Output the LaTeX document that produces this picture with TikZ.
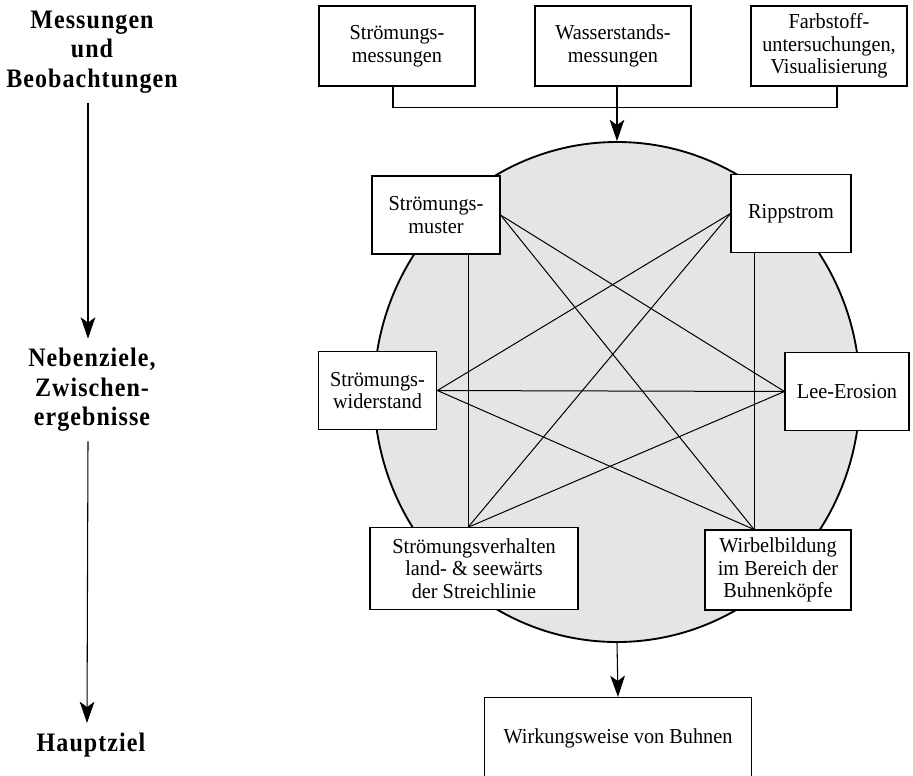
\documentclass[tikz,border=0pt]{standalone}
\usepackage{fontspec}
\setmainfont{Liberation Serif}[FakeStretch=0.95]
\newfontfamily\headfont[LetterSpace=4,FakeStretch=0.9]{Liberation Serif}
\usetikzlibrary{arrows.meta,shapes.geometric}
\tikzset{
  box/.style={draw, fill=white, align=center, inner sep=2pt, font=\fontsize{16}{17}\selectfont},
  head/.style={align=center, inner ysep=7pt, font=\headfont\bfseries\fontsize{20}{22}\selectfont},
  link/.style={line width=0.75pt},
}
\begin{document}
\begin{tikzpicture}[x=0.75pt,y=-0.75pt,line width=0.8pt,>={Stealth[length=16pt,width=11pt,inset=4pt]}]
\clip (0,0) rectangle (913,775);
% Ebenen links
\node[head] (mess) at (92,52) {Messungen\\und\\Beobachtungen};
\node[head] (neben) at (92,390) {Nebenziele,\\Zwischen-\\ergebnisse};
\node[head] (haupt) at (91,745) {Hauptziel};
\draw[->] ([xshift=-3pt]mess.south) -- ([xshift=-3pt]neben.north);
\draw[->] ([xshift=-3pt]neben.south) -- ([xshift=-3pt]haupt.north);
% Messungen oben
\node[box, minimum width=117pt, minimum height=60pt] (stroemmess) at (397,46) {Strömungs-\\messungen};
\node[box, minimum width=117pt, minimum height=60pt] (wassmess) at (613,46) {Wasserstands-\\messungen};
\node[box, minimum width=117pt, minimum height=60pt] (farb) at (829,46) {Farbstoff-\\untersuchungen,\\Visualisierung};
% Kreis mit Nebenzielen
\node[ellipse, draw, line width=1.4pt, fill=black!10, inner sep=0pt,
      minimum width=364.5pt, minimum height=375pt] (kreis) at (617,392) {};
\node[box, minimum width=96pt, minimum height=58.5pt] (muster) at (436,215) {Strömungs-\\muster};
\node[box, minimum width=90pt, minimum height=59pt] (ripp) at (791,213.5) {Rippstrom};
\node[box, minimum width=89pt, minimum height=59pt] (widerst) at (377.5,390.5) {Strömungs-\\widerstand};
\node[box, minimum width=93pt, minimum height=59pt] (lee) at (847,391.5) {Lee-Erosion};
\node[box, minimum width=156pt, minimum height=61pt] (verhalten) at (474,568.5) {Strömungsverhalten\\land- \& seewärts\\der Streichlinie};
\node[box, minimum width=109.5pt, minimum height=60pt] (wirbel) at (778,570) {Wirbelbildung\\im Bereich der\\Buhnenköpfe};
\node[box, minimum width=200pt, minimum height=62pt, anchor=north] (wirkung) at (618,697) {Wirkungsweise von Buhnen};
\draw ([xshift=-3pt]stroemmess.south) -- ++(0,21) -| ([xshift=6pt]farb.south);
\draw[->] (wassmess.south -| kreis.north) -- (kreis.north);
\draw[->] (kreis.south) -- (wirkung.north);
% Verbindungen
\coordinate (vT) at ([xshift=-4.5pt]verhalten.north);
\coordinate (bT) at ([xshift=-18pt]wirbel.north);
\draw[link] (muster.east) -- (lee.west);
\draw[link] (muster.east) -- (bT);
\draw[link] (ripp.west) -- (widerst.east);
\draw[link] (ripp.west) -- (vT);
\draw[link] (widerst.east) -- (lee.west);
\draw[link] (widerst.east) -- (bT);
\draw[link] (lee.west) -- (vT);
\draw[link] (vT |- muster.south) -- (vT);
\draw[link] (bT |- ripp.south) -- (bT);
\end{tikzpicture}
\end{document}
